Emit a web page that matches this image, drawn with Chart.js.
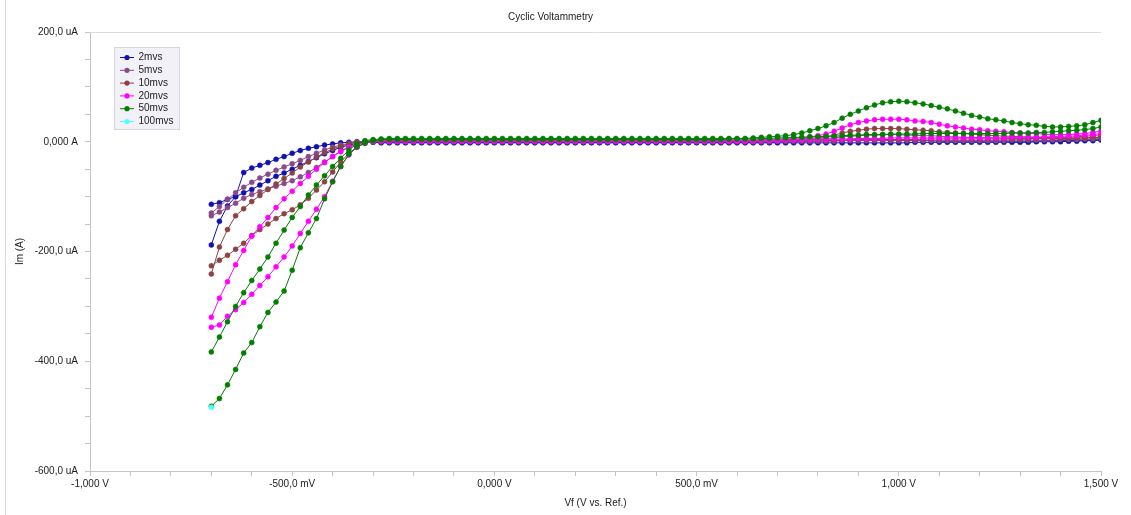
<!DOCTYPE html>
<html lang="en">
<head>
  <meta charset="UTF-8" />
  <script src="https://cdn.jsdelivr.net/npm/chart.js"></script>
  <title>Cyclic Voltammetry</title>
  <style>
    body { margin: 0; background: #fff; }
  </style>
</head>
<body>
  <canvas id="grafico" width="1131" height="515"></canvas>
  <script>
    // potential grid (V), shared by every branch
    const potential = [
      -0.70, -0.68, -0.66, -0.64, -0.62, -0.60, -0.58, -0.56, -0.54, -0.52,
      -0.50, -0.48, -0.46, -0.44, -0.42, -0.40, -0.38, -0.36, -0.34, -0.32,
      -0.30, -0.28, -0.26, -0.24, -0.22, -0.20, -0.18, -0.16, -0.14, -0.12,
      -0.10, -0.08, -0.06, -0.04, -0.02, 0.00, 0.02, 0.04, 0.06, 0.08,
      0.10, 0.12, 0.14, 0.16, 0.18, 0.20, 0.22, 0.24, 0.26, 0.28,
      0.30, 0.32, 0.34, 0.36, 0.38, 0.40, 0.42, 0.44, 0.46, 0.48,
      0.50, 0.52, 0.54, 0.56, 0.58, 0.60, 0.62, 0.64, 0.66, 0.68,
      0.70, 0.72, 0.74, 0.76, 0.78, 0.80, 0.82, 0.84, 0.86, 0.88,
      0.90, 0.92, 0.94, 0.96, 0.98, 1.00, 1.02, 1.04, 1.06, 1.08,
      1.10, 1.12, 1.14, 1.16, 1.18, 1.20, 1.22, 1.24, 1.26, 1.28,
      1.30, 1.32, 1.34, 1.36, 1.38, 1.40, 1.42, 1.44, 1.46, 1.48,
      1.50
    ];

    const scanLabels = ['2mvs', '5mvs', '10mvs', '20mvs', '50mvs', '100mvs'];
    const scanColors = ['#1010b4', '#8a4a8a', '#8b4343', '#ff00ff', '#007f00', '#4dffff'];

    // current (uA): fwd = scan towards 1,5 V, rev = scan back (both listed by potential)
    const cur2Fwd = [
      -188, -145, -117, -100, -56, -48, -43, -38, -32, -27,
      -21, -16, -12, -9, -6, -4, -2, -1, 0, 0,
      0, -1, -1, -1, -1, -1, -1, -1, -1, -1,
      -1, -1, -1, -1, -1, -1, -1, -1, -1, -1,
      -1, -1, -1, -1, -1, -1, -1, -1, -1, -1,
      -1, -1, -1, -1, -1, -1, -1, -1, -1, -1,
      -1, -1, -1, -1, -1, -1, -1, -1, -1, -1,
      0, 0, 0, 1, 1, 1, 2, 2, 2, 3,
      3, 3, 3, 3, 3, 3, 2, 2, 2, 2,
      1, 1, 1, 1, 1, 1, 1, 1, 1, 1,
      1, 1, 1, 2, 2, 2, 2, 3, 3, 4,
      5
    ];
    const cur2Rev = [
      -114, -111, -105, -100, -93, -87, -79, -71, -63, -57,
      -50, -43, -36, -29, -22, -16, -10, -6, -3, -1,
      -1, -2, -2, -2, -2, -2, -2, -2, -2, -2,
      -2, -2, -2, -2, -2, -2, -2, -2, -2, -2,
      -2, -2, -2, -2, -2, -2, -2, -2, -2, -2,
      -2, -2, -2, -2, -2, -2, -2, -2, -2, -2,
      -2, -2, -2, -2, -2, -2, -2, -2, -2, -2,
      -2, -2, -2, -2, -2, -2, -2, -2, -2, -2,
      -2, -2, -2, -2, -2, -2, -2, -1, -1, -1,
      -1, -1, -1, -1, -1, -1, -1, -1, -1, -1,
      -1, -1, 0, 0, 0, 0, 1, 1, 2, 2,
      3
    ];
    const cur5Fwd = [
      -130, -118, -105, -93, -83, -74, -66, -59, -52, -46,
      -40, -34, -27, -21, -15, -10, -6, -3, -1, 0,
      1, 1, 1, 1, 1, 1, 1, 1, 1, 1,
      1, 1, 1, 1, 1, 1, 1, 1, 1, 1,
      1, 1, 1, 1, 1, 1, 1, 1, 1, 1,
      1, 1, 1, 1, 1, 1, 1, 1, 1, 1,
      1, 1, 1, 1, 1, 1, 1, 1, 1, 2,
      2, 2, 3, 3, 4, 5, 6, 7, 9, 10,
      11, 12, 12, 13, 13, 13, 12, 12, 11, 11,
      10, 9, 9, 8, 8, 7, 7, 7, 6, 6,
      6, 6, 6, 6, 6, 6, 6, 6, 7, 7,
      8
    ];
    const cur5Rev = [
      -135, -128, -120, -112, -103, -96, -91, -86, -81, -76,
      -71, -64, -56, -47, -37, -27, -17, -9, -4, -1,
      0, 0, 0, 0, 0, 0, 0, 0, 0, 0,
      0, 0, 0, 0, 0, 0, 0, 0, 0, 0,
      0, 0, 0, 0, 0, 0, 0, 0, 0, 0,
      0, 0, 0, 0, 0, 0, 0, 0, 0, 0,
      0, 0, 0, 0, 0, 0, 0, 0, 0, 0,
      1, 1, 1, 1, 1, 1, 1, 1, 2, 2,
      2, 2, 2, 2, 2, 2, 2, 2, 2, 2,
      2, 2, 2, 2, 2, 2, 2, 2, 2, 3,
      3, 3, 3, 3, 3, 4, 4, 4, 5, 5,
      6
    ];
    const cur10Fwd = [
      -241, -192, -160, -135, -122, -109, -98, -87, -77, -67,
      -57, -46, -37, -28, -20, -13, -8, -4, -1, 1,
      2, 2, 2, 2, 2, 2, 2, 2, 2, 2,
      2, 2, 2, 2, 2, 2, 2, 2, 2, 2,
      2, 2, 2, 2, 2, 2, 2, 2, 2, 2,
      2, 2, 2, 2, 2, 2, 2, 2, 2, 2,
      2, 2, 2, 2, 2, 2, 2, 2, 3, 3,
      3, 4, 4, 5, 6, 7, 9, 12, 16, 19,
      21, 23, 24, 24, 24, 24, 23, 22, 21, 20,
      18, 17, 16, 15, 14, 13, 12, 11, 10, 10,
      9, 9, 8, 8, 8, 8, 8, 9, 10, 11,
      13
    ];
    const cur10Rev = [
      -226, -216, -207, -196, -185, -171, -160, -150, -140, -131,
      -124, -115, -103, -88, -73, -55, -37, -21, -10, -3,
      1, 1, 1, 1, 1, 1, 1, 1, 1, 1,
      1, 1, 1, 1, 1, 1, 1, 1, 1, 1,
      1, 1, 1, 1, 1, 1, 1, 1, 1, 1,
      1, 1, 1, 1, 1, 1, 1, 1, 1, 1,
      1, 1, 1, 1, 1, 1, 1, 1, 1, 2,
      2, 2, 2, 2, 3, 3, 3, 3, 3, 4,
      4, 4, 4, 4, 4, 4, 4, 4, 5, 5,
      5, 5, 5, 5, 5, 5, 5, 5, 5, 5,
      5, 5, 6, 6, 6, 6, 6, 7, 7, 8,
      9
    ];
    const cur20Fwd = [
      -320, -285, -255, -224, -198, -172, -155, -138, -120, -104,
      -90, -76, -63, -50, -38, -27, -18, -10, -5, -1,
      1, 2, 3, 3, 3, 3, 3, 3, 3, 3,
      3, 3, 3, 3, 3, 3, 3, 3, 3, 3,
      3, 3, 3, 3, 3, 3, 3, 3, 3, 3,
      3, 3, 3, 3, 3, 3, 3, 3, 3, 3,
      3, 3, 3, 3, 3, 3, 3, 3, 4, 4,
      5, 5, 6, 7, 9, 11, 14, 19, 25, 31,
      35, 38, 40, 41, 41, 41, 40, 38, 37, 35,
      32, 29, 27, 25, 23, 22, 20, 19, 18, 17,
      16, 15, 15, 14, 13, 13, 13, 14, 15, 17,
      20
    ];
    const cur20Rev = [
      -338, -334, -318, -306, -293, -278, -262, -246, -228, -210,
      -190, -167, -145, -123, -100, -72, -45, -24, -10, -2,
      1, 2, 1, 1, 1, 1, 1, 1, 1, 1,
      1, 1, 1, 1, 1, 1, 1, 1, 1, 1,
      1, 1, 1, 1, 1, 1, 1, 1, 1, 1,
      1, 1, 1, 1, 1, 1, 1, 1, 1, 1,
      1, 1, 1, 1, 1, 1, 1, 1, 2, 2,
      2, 3, 3, 3, 4, 4, 4, 5, 5, 5,
      6, 6, 6, 6, 7, 7, 7, 7, 7, 7,
      7, 7, 7, 7, 7, 7, 7, 7, 7, 8,
      8, 8, 8, 9, 9, 10, 10, 11, 12, 13,
      15
    ];
    const cur50Fwd = [
      -383, -356, -328, -300, -275, -253, -232, -210, -185, -161,
      -138, -118, -97, -79, -62, -45, -30, -15, -4, 2,
      4, 5, 6, 6, 6, 6, 6, 6, 6, 6,
      6, 6, 6, 6, 6, 6, 6, 6, 6, 6,
      6, 6, 6, 6, 6, 6, 6, 6, 6, 6,
      6, 6, 6, 6, 6, 6, 6, 6, 6, 6,
      6, 6, 6, 6, 6, 6, 6, 7, 8, 9,
      10, 11, 13, 16, 20, 24, 29, 35, 43, 50,
      56, 62, 67, 71, 73, 74, 73, 71, 69, 66,
      63, 60, 56, 52, 48, 45, 42, 40, 38, 35,
      33, 31, 30, 28, 27, 27, 28, 29, 31, 35,
      39
    ];
    const cur50Rev = [
      -482, -468, -443, -415, -385, -366, -337, -311, -292, -272,
      -234, -193, -166, -140, -104, -73, -45, -23, -9, -2,
      2, 4, 4, 4, 4, 4, 4, 4, 4, 4,
      4, 4, 4, 4, 4, 4, 4, 4, 4, 4,
      4, 4, 4, 4, 4, 4, 4, 4, 4, 4,
      4, 4, 4, 4, 4, 4, 4, 4, 4, 4,
      4, 4, 4, 4, 5, 5, 5, 5, 6, 6,
      7, 7, 8, 8, 9, 9, 10, 10, 11, 12,
      12, 13, 13, 13, 14, 14, 14, 14, 15, 15,
      15, 15, 15, 15, 15, 15, 15, 15, 15, 16,
      16, 16, 17, 17, 18, 19, 20, 21, 22, 24,
      27
    ];
    // 100mvs: a single point was recorded
    const pot100 = [-0.70];
    const cur100 = [-484];

    // forward points then the way back
    function cycle(fwd, rev) {
      const pts = potential.map((v, i) => ({ x: v, y: fwd[i] }));
      for (let i = potential.length - 1; i >= 0; i--) {
        pts.push({ x: potential[i], y: rev[i] });
      }
      return pts;
    }

    const series = [
      cycle(cur2Fwd, cur2Rev),
      cycle(cur5Fwd, cur5Rev),
      cycle(cur10Fwd, cur10Rev),
      cycle(cur20Fwd, cur20Rev),
      cycle(cur50Fwd, cur50Rev),
      pot100.map((v, i) => ({ x: v, y: cur100[i] }))
    ];

    const datasets = series.map((pts, i) => ({
      label: scanLabels[i],
      data: pts,
      borderColor: scanColors[i],
      backgroundColor: scanColors[i],
      borderWidth: 1,
      pointRadius: 2.5,
      pointBorderWidth: 0.5,
      pointBorderColor: scanColors[i],
      pointBackgroundColor: scanColors[i],
      fill: false,
      tension: 0,
      order: series.length - i // later scans on top
    }));

    const font = { family: '"Liberation Sans", Arial, sans-serif', size: 10 };

    // legend box inside the plot + light frame lines
    const extras = {
      id: 'extras',
      beforeDatasetsDraw(chart) {
        const { ctx, chartArea } = chart;
        ctx.save();
        ctx.strokeStyle = '#dcdcdc';
        ctx.lineWidth = 1;
        ctx.beginPath();
        ctx.moveTo(chartArea.left, chartArea.top + 0.5);
        ctx.lineTo(chartArea.right, chartArea.top + 0.5);
        ctx.moveTo(5.5, 0);
        ctx.lineTo(5.5, chart.height);
        ctx.stroke();
        ctx.restore();
      },
      afterDraw(chart) {
        const ctx = chart.ctx;
        ctx.save();
        ctx.fillStyle = '#f1f1f7';
        ctx.strokeStyle = '#d6d6de';
        ctx.lineWidth = 1;
        ctx.fillRect(114.5, 47.5, 65, 82);
        ctx.strokeRect(114.5, 47.5, 65, 82);
        ctx.font = '10px "Liberation Sans", Arial, sans-serif';
        ctx.textBaseline = 'middle';
        scanLabels.forEach((lab, i) => {
          const y = 57.5 + i * 12.8;
          ctx.strokeStyle = scanColors[i];
          ctx.beginPath();
          ctx.moveTo(120, y);
          ctx.lineTo(134, y);
          ctx.stroke();
          ctx.fillStyle = scanColors[i];
          ctx.beginPath();
          ctx.arc(127, y, 2.6, 0, Math.PI * 2);
          ctx.fill();
          ctx.fillStyle = '#222';
          ctx.fillText(lab, 138.5, y);
        });
        ctx.restore();
      }
    };

    const ctx = document.getElementById('grafico').getContext('2d');
    new Chart(ctx, {
      type: 'line',
      data: { datasets: datasets },
      options: {
        responsive: false,
        animation: false,
        layout: { padding: { left: 0, right: 30, top: 0, bottom: 0 } },
        plugins: {
          legend: { display: false },
          tooltip: { enabled: false },
          title: {
            display: true,
            text: 'Cyclic Voltammetry',
            color: '#222',
            font: { family: font.family, size: 10, weight: 'normal' },
            padding: { top: 11, bottom: 9 }
          }
        },
        scales: {
          x: {
            type: 'linear',
            min: -1,
            max: 1.5,
            afterFit: s => { s.height = 44; },
            grid: { drawOnChartArea: false, drawTicks: true, tickLength: 5, color: '#c4c4c4' },
            border: { display: true, color: '#c4c4c4' },
            ticks: {
              stepSize: 0.1,
              maxTicksLimit: 100,
              autoSkip: false,
              maxRotation: 0,
              padding: 2,
              color: '#222',
              font: font,
              callback: v => {
                const k = Math.round(v * 10);
                if (k % 5 !== 0) return '';
                const volts = k / 10;
                if (Math.abs(volts) === 0.5) return (volts * 1000).toFixed(1).replace('.', ',') + ' mV';
                return volts.toFixed(3).replace('.', ',') + ' V';
              }
            },
            title: {
              display: true,
              text: 'Vf (V vs. Ref.)',
              color: '#222',
              font: font,
              padding: { top: 0, bottom: 6 }
            }
          },
          y: {
            min: -600,
            max: 200,
            afterFit: s => { s.width = 90; },
            grid: { drawOnChartArea: false, drawTicks: true, tickLength: 5, color: '#c4c4c4' },
            border: { display: true, color: '#c4c4c4' },
            ticks: {
              stepSize: 50,
              maxTicksLimit: 100,
              autoSkip: false,
              padding: 7,
              color: '#222',
              font: font,
              callback: v => {
                if (v % 200 !== 0) return '';
                if (v === 0) return '0,000 A';
                return v.toFixed(1).replace('.', ',') + ' uA';
              }
            },
            title: {
              display: true,
              text: 'Im (A)',
              color: '#222',
              font: font,
              padding: { top: 14, bottom: 0 }
            }
          }
        }
      },
      plugins: [extras]
    });
  </script>
</body>
</html>
